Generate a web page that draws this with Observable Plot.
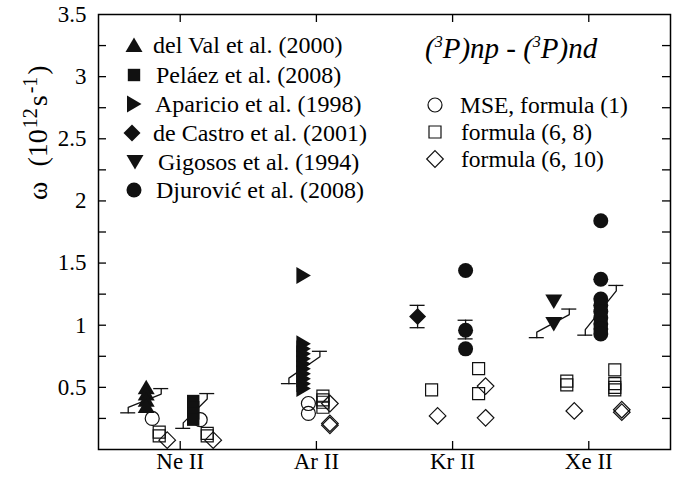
<!DOCTYPE html>
<html><head><meta charset="utf-8">
<script src="https://cdn.jsdelivr.net/npm/d3@7"></script>
<script src="https://cdn.jsdelivr.net/npm/@observablehq/plot@0.6"></script>
<style>body{margin:0;background:#fff} #chart{width:686px;height:488px}</style>
</head><body><div id="chart"></div>
<script>
// ---------------- data ----------------
const ions = ["Ne II", "Ar II", "Kr II", "Xe II"];
const yTicks = [0.5, 1, 1.5, 2, 2.5, 3, 3.5];
const yTickLabels = ["0.5", "1", "1.5", "2", "2.5", "3", "3.5"];
const yMinorTicks = [0.25, 0.75, 1.25, 1.75, 2.25, 2.75, 3.25];

// experimental values (10^12 s^-1), by ion group
const delVal2000_Ne = [0.50, 0.45, 0.40, 0.35];
const pelaez2008_Ne = [0.39, 0.34, 0.29, 0.24];
const aparicio1998_Ar = [1.40, 0.85, 0.81, 0.77, 0.73, 0.69, 0.65, 0.61, 0.57, 0.53, 0.49];
const deCastro2001_Kr = [1.07];
const gigosos1994_Xe = [1.19, 1.01];
const djurovic2008_Kr = [1.44, 0.96, 0.81];
const djurovic2008_Xe = [1.84, 1.37, 1.21, 1.16, 1.11, 1.06, 1.01, 0.97, 0.93];

// theoretical values: [group, value]
const mseFormula1 = [["Ne-A", 0.25], ["Ne-B", 0.24], ["Ar", 0.37], ["Ar", 0.29]];
const formula6_8 = [["Ne-A", 0.14], ["Ne-A", 0.11], ["Ne-B", 0.13], ["Ne-B", 0.11],
  ["Ar", 0.43], ["Ar", 0.40], ["Ar", 0.38], ["Ar", 0.34], ["Kr-A", 0.48], ["Kr-B", 0.65], ["Kr-B", 0.45],
  ["Xe-A", 0.55], ["Xe-A", 0.52], ["Xe-B", 0.64], ["Xe-B", 0.53], ["Xe-B", 0.50], ["Xe-B", 0.48]];
const formula6_10 = [["Ne-A", 0.075], ["Ne-B", 0.075], ["Ar", 0.37], ["Ar", 0.21], ["Ar", 0.195],
  ["Kr-A", 0.27], ["Kr-B", 0.51], ["Kr-B", 0.255], ["Xe-A", 0.31], ["Xe-B", 0.32], ["Xe-B", 0.30]];
// theoretical ranges: [group, low, high]
const theoryRange = [["Ne-A", 0.295, 0.49], ["Ne-B", 0.17, 0.45], ["Ar", 0.53, 0.79],
  ["Kr-A", 0.98, 1.16], ["Kr-B", 0.89, 1.04], ["Xe-A", 0.90, 1.13], ["Xe-B", 0.92, 1.32]];

const expLabels = ["del Val et al. (2000)", "Peláez et al. (2008)", "Aparicio et al. (1998)",
  "de Castro et al. (2001)", "Gigosos et al. (1994)", "Djurović et al. (2008)"];
const theoryLabels = ["MSE, formula (1)", "formula (6, 8)", "formula (6, 10)"];

// ---------------- layout (pixel offsets within each ion group) ----------------
const layout = {
  "Ne-A": {ion: 1, exp: -34, c: -28, s: -21, d: -13, lo: -52, hi: -19},
  "Ne-B": {ion: 1, exp: 13, c: 20, s: 27, d: 33, lo: 3, hi: 27},
  "Ar":   {ion: 2, exp: -13, c: -8, s: 6.5, d: 13.5, lo: -27.5, hi: 3.5},
  "Kr-A": {ion: 3, exp: -35, c: -28, s: -21, d: -15, lo: -35, hi: -35},
  "Kr-B": {ion: 3, exp: 13, c: 20, s: 26, d: 33, lo: 13, hi: 13},
  "Xe-A": {ion: 4, exp: -35, c: -28, s: -22, d: -14.5, lo: -52, hi: -19.5},
  "Xe-B": {ion: 4, exp: 12, c: 19, s: 26, d: 33, lo: -3.5, hi: 27.5}
};
const W = 686, H = 488, mL = 98, mR = 16, mT = 14, mB = 39;
const xDom = [0.4, 4.6], yDom = [0, 3.5];
const pxX = (W - mL - mR) / (xDom[1] - xDom[0]);
const pxY = (H - mT - mB) / (yDom[1] - yDom[0]);
const gx = (g, key) => layout[g].ion + layout[g][key] / pxX;

// ---------------- symbols ----------------
const poly = pts => ({draw(ctx) { ctx.moveTo(...pts[0]); pts.slice(1).forEach(p => ctx.lineTo(...p)); ctx.closePath(); }});
const circ = r => ({draw(ctx) { ctx.moveTo(r, 0); ctx.arc(0, 0, r, 0, 2 * Math.PI); ctx.closePath(); }});
const triUp = poly([[0, -7.5], [8.5, 7], [-8.5, 7]]);
const triDown = poly([[-8.5, -7], [8.5, -7], [0, 7.5]]);
const triRight = poly([[-7, -8.5], [7.5, 0], [-7, 8.5]]);
const sqFill = poly([[-6.2, -6.2], [6.2, -6.2], [6.2, 6.2], [-6.2, 6.2]]);
const diaFill = poly([[0, -8.5], [8.5, 0], [0, 8.5], [-8.5, 0]]);
const circFill = circ(7.5);
const circOpen = circ(7);
const sqOpen = poly([[-6, -6], [6, -6], [6, 6], [-6, 6]]);
const diaOpen = poly([[0, -8.3], [8.3, 0], [0, 8.3], [-8.3, 0]]);

const experiments = [
  {g: "Ne-A", v: delVal2000_Ne, sym: triUp},
  {g: "Ne-B", v: pelaez2008_Ne, sym: sqFill},
  {g: "Ar", v: aparicio1998_Ar, sym: triRight},
  {g: "Kr-A", v: deCastro2001_Kr, sym: diaFill},
  {g: "Xe-A", v: gigosos1994_Xe, sym: triDown},
  {g: "Kr-B", v: djurovic2008_Kr, sym: circFill},
  {g: "Xe-B", v: djurovic2008_Xe, sym: circFill}
];
const legendSyms = [triUp, sqFill, triRight, diaFill, triDown, circFill];
const theorySyms = [circOpen, sqOpen, diaOpen];

// bracket geometry
const stem = 5.5 / pxY, capHalf = 7.5 / pxX;
const bracketPts = theoryRange.flatMap(([g, lo, hi]) => [
  {g, x: gx(g, "lo"), y: lo}, {g, x: gx(g, "lo"), y: lo + stem},
  {g, x: gx(g, "hi"), y: hi - stem}, {g, x: gx(g, "hi"), y: hi}]);
const caps = theoryRange.flatMap(([g, lo, hi]) => [
  {x1: gx(g, "lo") - capHalf, x2: gx(g, "lo") + capHalf, y: lo},
  {x1: gx(g, "hi") - capHalf, x2: gx(g, "hi") + capHalf, y: hi}]);

const openMarks = [[mseFormula1, "c", circOpen], [formula6_8, "s", sqOpen], [formula6_10, "d", diaOpen]]
  .map(([arr, key, sym]) => Plot.dot(arr.map(([g, v]) => ({x: gx(g, key), y: v})),
    {x: "x", y: "y", r: 1, symbol: sym, fill: "none", stroke: "#111", strokeWidth: 1.2}));
const expMarks = experiments.map(e => Plot.dot(e.v.map(v => ({x: gx(e.g, "exp"), y: v})),
  {x: "x", y: "y", r: 1, symbol: e.sym, fill: "#111", stroke: "none"}));

const tickX = 8 / pxX, tickY = 8 / pxY;
const allYTicks = [...yMinorTicks, ...yTicks.filter(t => t < 3.5)];
const serif = "'Liberation Serif', 'Times New Roman', serif";

const chart = Plot.plot({
  width: W, height: H, marginLeft: mL, marginRight: mR, marginTop: mT, marginBottom: mB,
  style: {fontFamily: serif, fontSize: "23px", background: "white", color: "black"},
  x: {domain: xDom, axis: null},
  y: {domain: yDom, axis: null},
  marks: [
    Plot.ruleY(allYTicks, {y: d => d, x1: xDom[0], x2: xDom[0] + tickX, stroke: "black", strokeWidth: 1.3}),
    Plot.ruleY(allYTicks, {y: d => d, x1: xDom[1] - tickX, x2: xDom[1], stroke: "black", strokeWidth: 1.3}),
    Plot.ruleX([1, 2, 3, 4], {x: d => d, y1: yDom[0], y2: yDom[0] + tickY, stroke: "black", strokeWidth: 1.3}),
    Plot.ruleX([1, 2, 3, 4], {x: d => d, y1: yDom[1] - tickY, y2: yDom[1], stroke: "black", strokeWidth: 1.3}),
    Plot.text(yTicks, {y: d => d, frameAnchor: "left", dx: -12, textAnchor: "end", text: (d, i) => yTickLabels[i], fontSize: 23}),
    Plot.text([1, 2, 3, 4], {x: d => d, frameAnchor: "bottom", dy: 19, text: (d, i) => ions[i], fontSize: 23}),
    Plot.line(bracketPts, {x: "x", y: "y", z: "g", stroke: "#111", strokeWidth: 1.3, curve: "linear"}),
    Plot.ruleY(caps, {y: "y", x1: "x1", x2: "x2", stroke: "#111", strokeWidth: 1.3}),
    ...openMarks,
    ...expMarks,
    Plot.frame({stroke: "black", strokeWidth: 1.5})
  ]
});
document.getElementById("chart").append(chart);

// ---------------- y title & legends ----------------
const svg = d3.select(chart);
const symPath = s => { const p = d3.path(); s.draw(p); return p.toString(); };
const addText = (x, y, size) => svg.append("text").attr("x", x).attr("y", y)
  .style("font-family", serif).style("font-size", size + "px").attr("text-anchor", "start").attr("fill", "black");

const yt = svg.append("text").attr("transform", "translate(47,200) rotate(-90)").attr("text-anchor", "start")
  .style("font-family", serif).style("font-size", "28px").attr("fill", "black");
yt.append("tspan").text("ω");
yt.append("tspan").attr("dx", 15).text("(10");
yt.append("tspan").attr("dy", -10).attr("dx", 1).style("font-size", "20px").text("12");
yt.append("tspan").attr("dy", 10).attr("dx", 2).text("s");
yt.append("tspan").attr("dy", -10).attr("dx", 2).style("font-size", "20px").text("-1");
yt.append("tspan").attr("dy", 10).attr("dx", 2).text(")");

const legY = [45, 75, 104, 133, 162, 190];
const legMX = [134, 134, 134, 132, 135, 134];
const legTX = [153, 156, 155, 153, 158, 156];
expLabels.forEach((lab, i) => {
  svg.append("path").attr("d", symPath(legendSyms[i])).attr("transform", `translate(${legMX[i]},${legY[i]})`).attr("fill", "#111");
  addText(legTX[i], legY[i] + 8, 24).text(lab);
});
const tY = [105, 132, 159], tTX = [460, 461, 461];
theoryLabels.forEach((lab, i) => {
  svg.append("path").attr("d", symPath(theorySyms[i])).attr("transform", `translate(435,${tY[i]})`)
    .attr("fill", "none").attr("stroke", "#111").attr("stroke-width", 1.2);
  addText(tTX[i], tY[i] + 8, 23.5).text(lab);
});
const hd = addText(425, 58, 29).style("font-style", "italic");
hd.append("tspan").text("(");
hd.append("tspan").attr("dy", -11).style("font-size", "16px").text("3");
hd.append("tspan").attr("dy", 11).text("P)np - (");
hd.append("tspan").attr("dy", -11).style("font-size", "16px").text("3");
hd.append("tspan").attr("dy", 11).text("P)nd");
</script></body></html>
